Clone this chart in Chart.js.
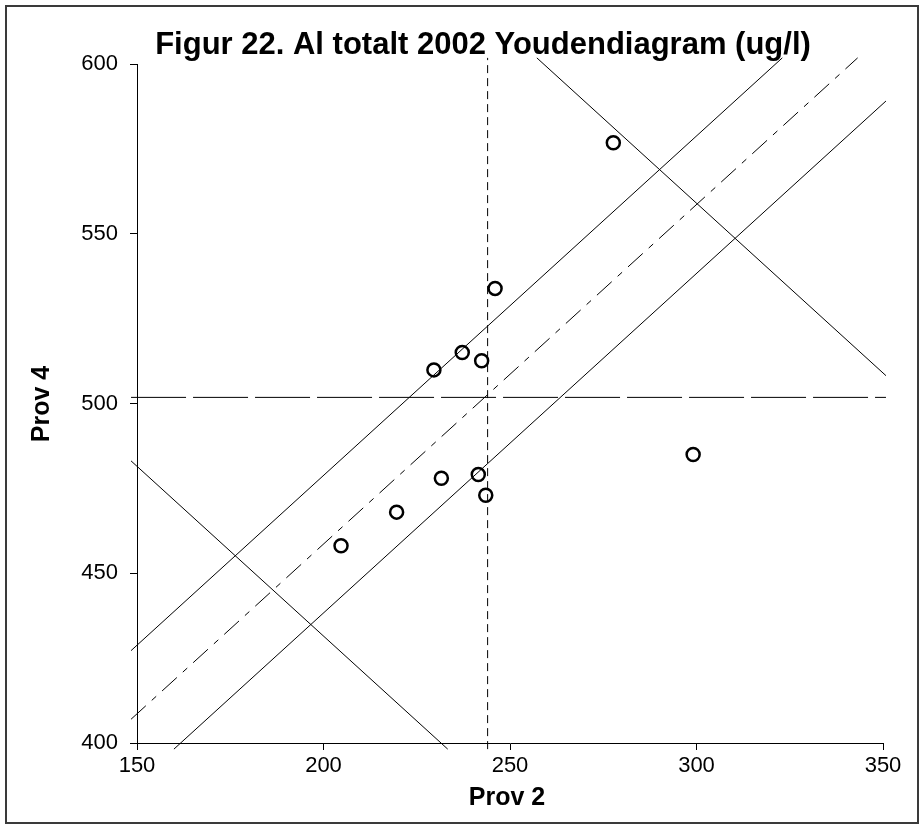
<!DOCTYPE html>
<html>
<head>
<meta charset="utf-8">
<title>Figur 22</title>
<script src="https://cdn.jsdelivr.net/npm/chart.js@4.4.1/dist/chart.umd.min.js"></script>
<style>
  html, body { margin: 0; padding: 0; background: #fff; }
  #wrap { position: relative; width: 922px; height: 827px; }
  #frame { position: absolute; left: 5px; top: 5px; width: 910px; height: 815px;
           border: 2px solid #3a3a3a; pointer-events: none; }
</style>
</head>
<body>
<div id="wrap">
  <canvas id="youden" width="922" height="827"></canvas>
  <div id="frame"></div>
</div>
<script>
// Youden plot, Al totalt 2002: Prov 2 on x, Prov 4 on y

// lab results
const prov2 = [204.7, 219.6, 231.6, 241.5, 243.5, 229.6, 237.2, 242.4, 246.0, 277.7, 299.1];
const prov4 = [458.1, 468.0, 478.0, 479.1, 473.0, 509.9, 515.0, 512.6, 533.9, 576.8, 485.0];

// axis ticks
const xTicks = [150, 200, 250, 300, 350];
const yTicks = [400, 450, 500, 550, 600];

// reference lines, endpoints in data units
const medHX = [148.4, 350.8],  medHY = [501.8, 501.8];   // median prov 4
const medVX = [244, 244],      medVY = [398.2, 601.8];   // median prov 2
const diagX = [148.4, 343.2],  diagY = [407.0, 601.8];   // 45 degree line
const upperX = [148.4, 323.0], upperY = [427.2, 601.8];
const lowerX = [159.9, 350.8], lowerY = [398.2, 589.1];
const crossLoX = [148.4, 233.3], crossLoY = [483.1, 398.2];
const crossHiX = [257.2, 350.8], crossHiY = [601.8, 508.2];

const FONT = '"Liberation Sans", Arial, sans-serif';

function pts(xs, ys){
  return xs.map((x, i) => ({ x: x, y: ys[i] }));
}

function refLine(xs, ys, dash){
  return {
    type: 'line',
    data: pts(xs, ys),
    borderColor: '#000',
    borderWidth: 1,
    borderDash: dash || [],
    pointRadius: 0,
    fill: false,
    clip: false,
    order: 2
  };
}

// title and axis names
const labelsPlugin = {
  id: 'labels',
  afterDraw(chart){
    const c = chart.ctx;
    c.save();
    c.fillStyle = '#000';
    c.textAlign = 'center';
    c.textBaseline = 'alphabetic';
    c.font = 'bold 31px ' + FONT;
    c.fillText('Figur 22. Al totalt 2002 Youdendiagram (ug/l)', 483, 54);
    c.font = 'bold 25px ' + FONT;
    c.fillText('Prov 2', 507, 805);
    c.translate(49, 404);
    c.rotate(-Math.PI / 2);
    c.fillText('Prov 4', 0, 0);
    c.restore();
  }
};

const axisCommon = {
  type: 'linear',
  grid: { display: true, drawOnChartArea: false, drawTicks: true, tickLength: 7, color: '#000', lineWidth: 1 },
  border: { display: true, color: '#000', width: 1 }
};

new Chart(document.getElementById('youden'), {
  type: 'scatter',
  data: {
    datasets: [
      {
        label: 'Laboratorier',
        data: pts(prov2, prov4),
        pointStyle: 'circle',
        pointRadius: 6.5,
        pointBorderWidth: 2.5,
        borderColor: '#000',
        backgroundColor: 'rgba(0,0,0,0)',
        order: 1
      },
      refLine(medHX, medHY, [55, 7]),
      refLine(medVX, medVY, [8, 5]),
      refLine(diagX, diagY, [20, 8, 6, 8]),
      refLine(upperX, upperY),
      refLine(lowerX, lowerY),
      refLine(crossLoX, crossLoY),
      refLine(crossHiX, crossHiY)
    ]
  },
  options: {
    responsive: false,
    animation: false,
    layout: { padding: { top: 64, right: 39, left: 0, bottom: 0 } },
    plugins: { legend: { display: false }, tooltip: { enabled: false }, title: { display: false } },
    scales: {
      x: Object.assign({}, axisCommon, {
        min: 150, max: 350,
        afterBuildTicks: s => { s.ticks = xTicks.map(v => ({ value: v })); },
        afterFit: s => { s.height = 84; },
        ticks: { color: '#000', padding: 3, font: { family: FONT, size: 22 } }
      }),
      y: Object.assign({}, axisCommon, {
        min: 400, max: 600,
        afterBuildTicks: s => { s.ticks = yTicks.map(v => ({ value: v })); },
        afterFit: s => { s.width = 137; },
        ticks: { color: '#000', padding: 12, font: { family: FONT, size: 22 } }
      })
    }
  },
  plugins: [labelsPlugin]
});
</script>
</body>
</html>
